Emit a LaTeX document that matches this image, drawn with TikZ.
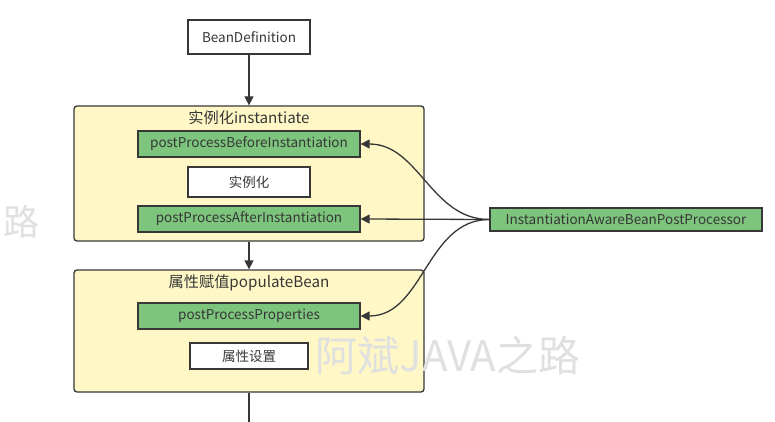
\documentclass[tikz,border=0pt]{standalone}
\usepackage{fontspec}
\setmainfont{Noto Sans CJK SC}
\usetikzlibrary{arrows.meta}
\definecolor{stepgreen}{RGB}{125,196,125}
\definecolor{stageyellow}{RGB}{255,248,198}
\definecolor{linegray}{RGB}{55,55,55}
\definecolor{markgray}{RGB}{224,224,224}
\begin{document}
\begin{tikzpicture}[x=1pt,y=-1pt,
    every node/.style={text=linegray, font=\fontsize{13.5}{15}\selectfont},
    stage/.style={draw=linegray, line width=1.3pt, fill=stageyellow, rounded corners=3pt, minimum width=350pt},
    hook/.style={draw=linegray, line width=1.3pt, fill=stepgreen, minimum width=222pt, minimum height=26pt, inner sep=0pt},
    plain/.style={draw=linegray, line width=1.3pt, fill=white, minimum width=122pt, inner sep=0pt},
    flow/.style={draw=linegray, line width=1.3pt, -{Triangle[length=9pt,width=9pt]}}]
  \clip (0,0) rectangle (775,422);
  \fill[white] (0,0) rectangle (775,422);
  % watermarks
  \node[text=markgray, font=\fontsize{36}{38}\selectfont, inner sep=0pt] (mark1) at (22,222) {路};
  % stages
  \node[stage, minimum height=135pt] (inst) at (249,173.5) {};
  \node[stage, minimum height=122pt] (popu) at (249,331) {};
  \node[font=\fontsize{15.2}{17}\selectfont] (instTitle) at (249,118) {实例化instantiate};
  \node[font=\fontsize{15.2}{17}\selectfont] (popuTitle) at (249,283) {属性赋值populateBean};
  \node[text=markgray, font=\fontsize{42}{44}\selectfont] (mark2) at (448,355) {阿斌JAVA之路};
  % boxes
  \node[plain, minimum height=34pt] (beandef) at (249,37) {BeanDefinition};
  \node[hook] (before) at (249,144) {postProcessBeforeInstantiation};
  \node[plain, minimum height=30pt] (doinst) at (249,182) {实例化};
  \node[hook] (after) at (249,219) {postProcessAfterInstantiation};
  \node[hook] (props) at (249,316) {postProcessProperties};
  \node[plain, minimum width=118pt, minimum height=26pt] (doprops) at (249,356) {属性设置};
  \node[hook, minimum width=272pt, minimum height=23pt] (iabpp) at (626,219.5) {InstantiationAwareBeanPostProcessor};
  \coordinate (next) at (249,432);
  % connectors
  \draw[flow] (beandef) -- (inst);
  \draw[flow] (inst) -- (popu);
  \draw[flow] (popu) -- (next);
  \draw[flow] (iabpp.west) to[out=180, in=0] (before.east);
  \draw[flow] (iabpp.west) -- (after.east);
  \draw[flow] (iabpp.west) to[out=180, in=0] (props.east);
\end{tikzpicture}
\end{document}
